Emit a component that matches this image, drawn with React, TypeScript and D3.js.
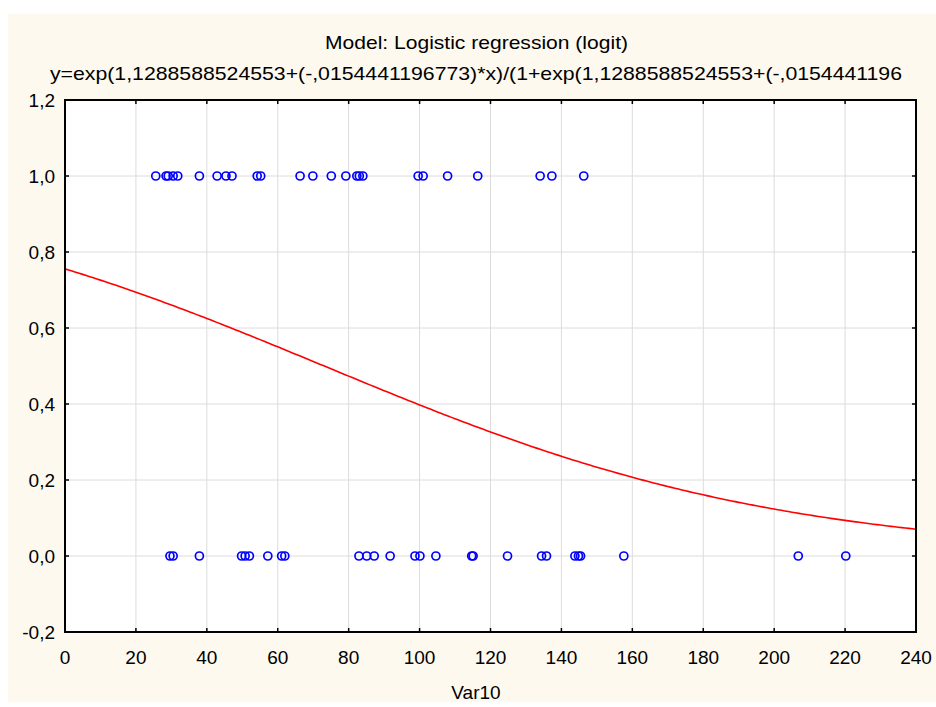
import React from "react";
import * as d3 from "d3";

const xTicks = [0, 20, 40, 60, 80, 100, 120, 140, 160, 180, 200, 220, 240];
const yTicks = [-0.2, 0, 0.2, 0.4, 0.6, 0.8, 1.0, 1.2];

const onesX = [25.6, 28.5, 29.1, 30.5, 31.8, 37.9, 42.9, 45.4, 47.1, 54.2, 55.2, 66.3, 69.9, 75.1, 79.2, 82.3, 83.0, 84.0, 99.6, 101.0, 107.9, 116.4, 134.0, 137.3, 146.3];
const zerosX = [29.6, 30.5, 37.9, 49.8, 50.8, 52.0, 57.2, 61.1, 62.0, 82.9, 85.1, 87.2, 91.7, 98.7, 100.1, 104.6, 114.7, 115.1, 124.8, 134.4, 135.8, 143.8, 144.8, 145.4, 157.6, 206.8, 220.2];

const b0 = 1.1288588524553;
const b1 = -0.0154441196773;

const title = "Model: Logistic regression (logit)";
const subtitle = "y=exp(1,1288588524553+(-,0154441196773)*x)/(1+exp(1,1288588524553+(-,0154441196";
const xLabel = "Var10";

const W = 936, H = 707;
const L = 65, R = 916, T = 100, B = 632;

const fmt = (v: number) => v.toFixed(1).replace(".", ",");

export default function App() {
  const x = d3.scaleLinear().domain([0, 240]).range([L, R]);
  const y = d3.scaleLinear().domain([-0.2, 1.2]).range([B, T]);
  const xs = d3.range(0, 240.001, 1);
  const line = d3.line<number>()
    .x((d) => x(d))
    .y((d) => { const e = Math.exp(b0 + b1 * d); return y(e / (1 + e)); });
  const font = "'Liberation Sans', Arial, sans-serif";
  return (
    <svg width={W} height={H} style={{ position: "absolute", left: 0, top: 0 }} fontFamily={font}>
      <rect x={0} y={0} width={W} height={H} fill="#ffffff" />
      <rect x={8} y={14} width={W - 8} height={688} fill="#fdf9ef" />
      <rect x={L} y={T} width={R - L} height={B - T} fill="#ffffff" />
      {xTicks.map((t) => (
        <line key={"gx" + t} x1={x(t)} x2={x(t)} y1={T} y2={B} stroke="#dcdcdc" strokeWidth={1} />
      ))}
      {yTicks.map((t) => (
        <line key={"gy" + t} x1={L} x2={R} y1={y(t)} y2={y(t)} stroke="#dcdcdc" strokeWidth={1} />
      ))}
      <path d={line(xs) || ""} fill="none" stroke="#ff0000" strokeWidth={1.6} />
      {onesX.map((v, i) => (
        <circle key={"o" + i} cx={x(v)} cy={y(1)} r={4} fill="none" stroke="#0000ff" strokeWidth={1.7} />
      ))}
      {zerosX.map((v, i) => (
        <circle key={"z" + i} cx={x(v)} cy={y(0)} r={4} fill="none" stroke="#0000ff" strokeWidth={1.7} />
      ))}
      {xTicks.map((t) => (
        <g key={"tx" + t}>
          <line x1={x(t)} x2={x(t)} y1={T} y2={T + 4} stroke="#000" strokeWidth={1.5} />
          <line x1={x(t)} x2={x(t)} y1={B} y2={B - 4} stroke="#000" strokeWidth={1.5} />
          <text x={x(t)} y={664} textAnchor="middle" fontSize={19} fill="#000">{t}</text>
        </g>
      ))}
      {yTicks.map((t) => (
        <g key={"ty" + t}>
          <line x1={L} x2={L + 4} y1={y(t)} y2={y(t)} stroke="#000" strokeWidth={1.5} />
          <line x1={R} x2={R - 4} y1={y(t)} y2={y(t)} stroke="#000" strokeWidth={1.5} />
          <text x={55} y={y(t)} dy="0.35em" textAnchor="end" fontSize={19} fill="#000">{fmt(t)}</text>
        </g>
      ))}
      <rect x={L} y={T} width={R - L} height={B - T} fill="none" stroke="#000" strokeWidth={2} />
      <text x={325} y={49} textAnchor="start" fontSize={19} fill="#000" textLength={303} lengthAdjust="spacingAndGlyphs">{title}</text>
      <text x={50} y={80} textAnchor="start" fontSize={19} fill="#000" textLength={852} lengthAdjust="spacingAndGlyphs">{subtitle}</text>
      <text x={476} y={699} textAnchor="middle" fontSize={19} fill="#000">{xLabel}</text>
    </svg>
  );
}
